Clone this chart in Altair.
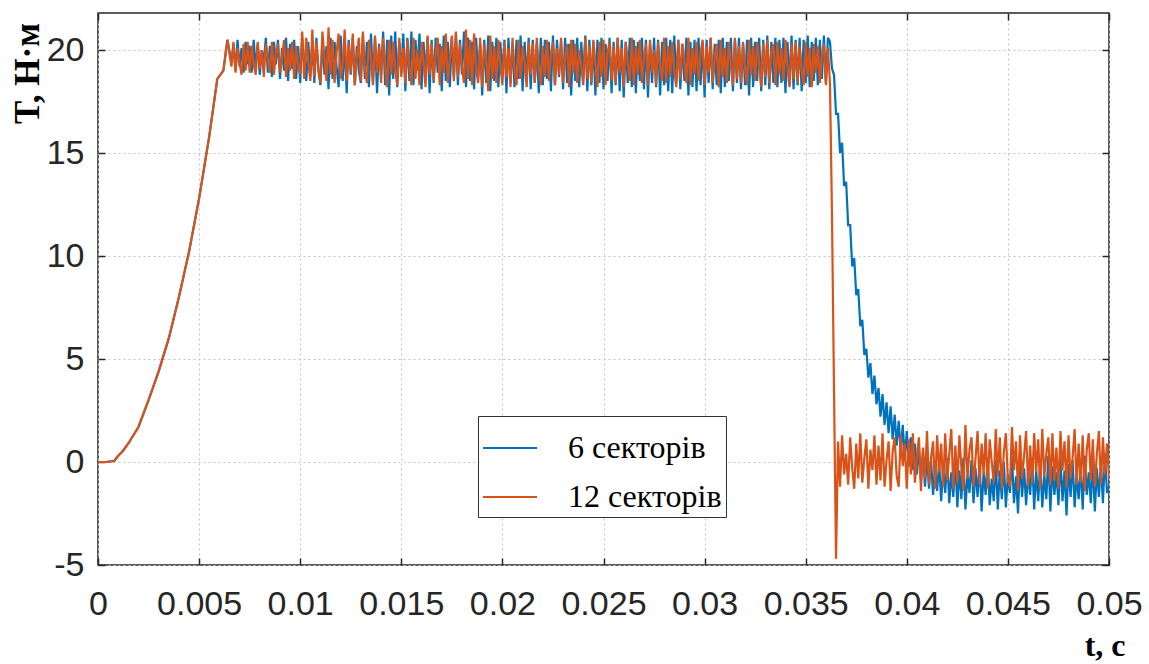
import altair as alt
import pandas as pd

SERIES = ["6 секторів", "12 секторів"]
COLORS = ["#0072BD", "#D95319"]

# smooth start-up (shared by both curves)
rise_t = [0, 0.0004, 0.0008, 0.001, 0.0012, 0.0015, 0.002, 0.0025, 0.003, 0.0035,
          0.004, 0.0045, 0.005, 0.0055, 0.0059, 0.0062, 0.0064]
rise_v = [0, 0, 0.05, 0.3, 0.5, 0.9, 1.7, 3.0, 4.4, 6.0,
          8.0, 10.2, 12.8, 15.8, 18.6, 19.0, 20.5]

# sampled torque after start-up, t = 0.0066 ... 0.05, step 0.0001 (10 samples per row)
t_start = 0.0066
t_step = 0.0001

blue_v = [
    19.4, 20.3, 19.0, 20.5, 19.2, 20.1, 18.9, 20.4, 19.3, 20.2,
    18.9, 20.5, 19.1, 20.3, 18.8, 20.0, 19.4, 20.6, 18.9, 20.2,
    18.7, 20.4, 19.3, 20.5, 18.6, 20.1, 19.0, 20.6, 18.5, 20.3,
    19.1, 20.5, 18.6, 20.2, 18.4, 20.6, 19.2, 18.5, 20.4, 18.7,
    20.3, 18.4, 20.6, 19.0, 18.3, 20.5, 18.8, 20.2, 18.1, 20.6,
    18.6, 20.4, 19.2, 18.2, 20.7, 18.5, 20.3, 17.9, 20.5, 18.8,
    20.6, 18.3, 20.2, 19.0, 18.4, 20.7, 18.6, 20.4, 18.2, 20.8,
    18.5, 20.6, 17.9, 20.3, 18.8, 20.9, 18.3, 20.5, 17.8, 20.7,
    18.6, 20.9, 18.2, 20.4, 18.9, 20.8, 18.0, 20.6, 18.5, 20.9,
    18.3, 20.5, 19.0, 20.8, 18.1, 20.4, 18.7, 20.6, 17.9, 20.5,
    18.4, 20.6, 18.9, 20.3, 18.0, 20.7, 18.5, 20.4, 18.2, 20.6,
    18.7, 20.8, 18.3, 20.5, 18.8, 20.9, 18.2, 20.6, 18.5, 20.4,
    18.1, 20.6, 18.6, 20.3, 17.8, 20.5, 18.4, 20.7, 18.0, 20.4,
    18.5, 20.6, 18.2, 20.4, 18.7, 20.5, 17.9, 20.6, 18.4, 20.3,
    18.2, 20.5, 18.6, 20.7, 18.0, 20.4, 18.5, 20.6, 18.1, 20.5,
    18.4, 20.3, 17.9, 20.6, 18.3, 20.5, 18.6, 20.4, 18.0, 20.7,
    18.3, 20.5, 18.7, 20.4, 18.1, 20.6, 18.4, 20.3, 17.8, 20.5,
    18.5, 20.6, 18.2, 20.4, 18.6, 20.7, 18.0, 20.5, 18.3, 20.4,
    17.8, 20.5, 18.4, 20.6, 18.1, 20.3, 18.5, 20.6, 17.9, 20.4,
    18.3, 20.6, 18.0, 20.5, 17.7, 20.4, 18.4, 20.6, 18.2, 20.5,
    17.9, 20.4, 18.5, 20.6, 18.1, 20.5, 17.7, 20.3, 18.4, 20.6,
    18.2, 20.5, 17.8, 20.4, 18.3, 20.6, 18.0, 20.5, 17.9, 20.7,
    18.4, 20.5, 18.1, 20.3, 18.5, 20.6, 17.8, 20.4, 18.2, 20.5,
    18.0, 20.6, 18.3, 20.4, 17.7, 20.5, 18.4, 20.6, 18.1, 20.3,
    18.3, 20.5, 17.9, 20.6, 18.2, 20.4, 18.5, 20.6, 18.0, 20.5,
    18.4, 20.6, 18.1, 20.3, 18.3, 20.5, 17.8, 20.6, 18.2, 20.4,
    18.5, 20.6, 18.0, 20.5, 18.3, 20.7, 18.1, 20.4, 18.4, 20.6,
    18.2, 20.5, 18.4, 20.6, 17.9, 20.4, 18.3, 20.7, 18.1, 20.5,
    18.3, 20.6, 18.0, 20.5, 18.4, 20.7, 18.2, 20.4, 18.5, 20.6,
    18.3, 20.5, 18.6, 20.7, 18.4, 20.6, 20.4, 19.1, 18.8, 16.9,
    16.9, 15.0, 15.5, 13.4, 13.6, 11.5, 11.5, 9.5, 9.9, 8.1,
    8.4, 6.6, 6.9, 5.2, 5.5, 4.1, 4.8, 3.3, 4.2, 2.8,
    3.6, 2.2, 3.3, 1.8, 2.9, 1.4, 2.7, 1.1, 2.3, 0.8,
    2.0, 0.5, 1.8, 0.2, 1.5, -0.2, 1.2, -0.4, 0.9, -0.6,
    0.7, -0.9, 0.5, -1.2, 0.3, -1.3, 0.1, -1.6, -0.2, -1.4,
    0.0, -1.9, -0.3, -1.5, 0.2, -2.0, -0.5, -1.7, 0.1, -2.2,
    -0.4, -1.8, 0.2, -2.3, -0.6, -1.5, 0.1, -2.0, -0.3, -1.7,
    0.0, -2.4, -0.5, -1.6, 0.2, -2.1, -0.8, -1.9, 0.1, -2.3,
    -0.4, -1.8, 0.0, -2.2, -0.6, -1.5, 0.3, -2.0, -0.7, -2.5,
    0.1, -1.7, -0.3, -2.1, -0.5, -1.6, 0.2, -2.3, -0.4, -1.9,
    0.0, -2.2, -0.6, -1.8, 0.3, -2.4, -0.2, -1.6, -0.5, -2.1,
    0.2, -1.9, -0.4, -2.6, -0.1, -1.7, 0.1, -2.2, -0.6, -1.8,
    -0.2, -2.3, 0.3, -1.6, -0.5, -2.0, 0.0, -2.4, -0.3, -1.7,
    -0.1, -2.0, 0.4, -1.5, -1.2,
]

orange_v = [
    19.2, 20.4, 18.9, 20.1, 19.4, 18.8, 20.3, 19.0, 20.4, 18.9,
    20.2, 19.3, 18.8, 20.4, 19.1, 20.0, 18.7, 20.3, 19.5, 18.9,
    20.4, 18.8, 19.9, 20.3, 18.9, 19.6, 20.5, 18.7, 20.1, 19.0,
    20.4, 18.6, 20.2, 19.2, 18.8, 20.9, 18.6, 20.6, 19.4, 18.5,
    21.0, 18.7, 20.4, 19.1, 18.4, 20.9, 19.6, 18.5, 21.1, 18.8,
    20.5, 18.4, 19.9, 20.8, 18.6, 19.3, 21.0, 18.5, 20.3, 18.9,
    20.8, 18.3, 19.7, 20.6, 18.5, 20.9, 19.0, 18.4, 20.5, 19.6,
    18.3, 20.7, 18.9, 20.2, 18.4, 20.6, 19.3, 18.2, 20.5, 18.8,
    20.4, 19.0, 18.3, 20.6, 18.7, 20.1, 18.4, 20.5, 19.2, 18.3,
    20.6, 18.6, 20.0, 18.3, 20.4, 19.4, 18.2, 20.7, 18.8, 20.3,
    18.5, 19.8, 20.6, 18.3, 20.2, 18.9, 20.8, 18.4, 19.6, 20.7,
    18.5, 20.9, 18.7, 20.3, 19.2, 18.4, 21.0, 18.6, 20.5, 18.3,
    20.8, 19.1, 18.4, 20.6, 18.2, 20.3, 19.5, 18.0, 20.7, 18.6,
    20.2, 18.4, 20.5, 19.3, 18.3, 20.4, 18.7, 20.1, 18.2, 20.6,
    19.0, 18.3, 20.5, 18.6, 20.2, 19.4, 18.2, 20.4, 18.8, 20.3,
    18.4, 20.6, 19.1, 18.3, 20.2, 18.7, 20.5, 18.5, 19.8, 20.4,
    18.3, 20.1, 18.8, 20.6, 18.4, 19.6, 20.3, 18.2, 20.5, 18.9,
    20.3, 18.4, 20.0, 19.2, 18.3, 20.6, 18.6, 20.2, 18.4, 20.5,
    19.3, 18.2, 20.4, 18.7, 20.5, 18.3, 19.9, 20.4, 18.5, 20.2,
    18.4, 20.6, 18.9, 20.1, 18.2, 20.4, 19.4, 18.5, 20.6, 18.3,
    20.2, 18.8, 20.5, 18.4, 19.7, 20.3, 18.3, 20.5, 18.9, 20.0,
    18.3, 20.4, 19.2, 18.5, 20.6, 18.4, 20.2, 18.7, 20.4, 19.0,
    18.2, 20.5, 18.6, 20.3, 19.5, 18.4, 20.6, 18.3, 20.1, 18.8,
    20.4, 18.5, 19.8, 20.5, 18.3, 20.2, 18.9, 20.6, 18.4, 19.6,
    20.3, 18.2, 20.5, 18.7, 20.1, 18.4, 20.4, 19.3, 18.3, 20.6,
    18.6, 20.2, 18.4, 20.4, 19.1, 18.3, 20.5, 18.8, 20.2, 18.5,
    20.4, 19.4, 18.2, 20.3, 18.7, 20.5, 18.4, 19.9, 20.3, 18.3,
    20.4, 18.8, 20.1, 18.5, 20.5, 19.2, 18.2, 20.3, 18.6, 20.4,
    18.4, 20.2, 19.0, 18.3, 20.4, 18.7, 20.1, 18.2, 20.3, 18.9,
    20.2, 18.4, 19.8, 20.3, 18.3, 20.1, 18.4, 12.0, 3.5, -4.7,
    1.0, -1.2, 1.3, -0.6, 0.4, -1.1, 1.2, -0.3, -1.3, 0.9,
    -0.8, 1.4, -1.0, 0.2, 1.1, -1.3, 0.6, -0.4, 1.3, -1.1,
    0.8, -0.9, 1.4, -1.2, 0.1, 1.0, -1.4, 0.5, 1.2, -0.7,
    -1.2, 1.3, -0.2, 0.9, -1.3, 1.1, -0.6, 1.4, -1.0, 0.3,
    1.2, -1.4, 0.7, -0.8, 1.5, -1.1, 0.2, 1.0, -1.3, 1.3,
    -0.5, 0.9, -1.2, 1.4, -0.9, 0.4, 1.6, -1.3, 0.8, -1.0,
    1.3, -0.3, -1.4, 1.8, -0.8, 0.6, 1.2, -1.2, 0.2, 1.5,
    -1.1, 0.9, -0.6, 1.4, -1.3, 1.1, 0.0, -1.0, 1.6, -0.7,
    1.2, -1.3, 0.5, 1.4, -0.9, -1.2, 1.7, -0.4, 1.0, -1.4,
    1.3, -0.8, 0.3, 1.5, -1.2, 0.8, -1.0, 1.4, -0.5, 1.1,
    -1.3, 1.6, -0.7, 0.4, 1.2, -1.1, 1.4, -0.9, 0.7, -1.3,
    1.5, -0.4, 1.0, -1.2, 1.3, -0.8, 0.2, 1.6, -1.1, 0.9,
    -1.0, 1.3, -1.4, 0.6, 1.4, -0.9, 1.1, -1.2, 0.4, 1.5,
    -1.1, 1.2, -0.6, 0.9, -0.8,
]

x_ticks = [0, 0.005, 0.01, 0.015, 0.02, 0.025, 0.03, 0.035, 0.04, 0.045, 0.05]
y_ticks = [-5, 0, 5, 10, 15, 20]


def series_frame(values, name):
    ts = rise_t + [round(t_start + t_step * i, 6) for i in range(len(values))]
    return pd.DataFrame({"t": ts, "T": rise_v + values, "s": name})


df_blue = series_frame(blue_v, SERIES[0])
df_orange = series_frame(orange_v, SERIES[1])

TICK_FONT = "Liberation Sans, Arial, Helvetica"
TITLE_FONT = "Liberation Serif, Times New Roman, serif"
DARK = "#262626"
MINUS_FIX = "replace(datum.label, '\u2212', '-')"

x_scale = alt.Scale(domain=[0, 0.05], nice=False, zero=False)
y_scale = alt.Scale(domain=[-5, 21.8], nice=False, zero=False)

color = alt.Color(
    "s:N",
    scale=alt.Scale(domain=SERIES, range=COLORS),
    legend=alt.Legend(
        orient="none", legendX=380, legendY=403, title=None,
        symbolType="stroke", symbolSize=2916, symbolStrokeWidth=2,
        labelFont=TITLE_FONT, labelFontSize=32, labelColor="black",
        labelOffset=30, strokeColor="#333333", fillColor="white",
        padding=4, rowPadding=5,
    ),
)

x_main = alt.Axis(
    values=x_ticks, format="~g", grid=True, gridColor="#c4c4c4", gridDash=[2, 3],
    domain=False, ticks=True, tickSize=7, tickColor=DARK, tickWidth=1.5, offset=-7,
    labelFont=TICK_FONT, labelFontSize=34, labelColor=DARK, labelPadding=22,
    labelFlush=False, labelOverlap=False,
    title="t, с", titleFont=TITLE_FONT, titleFontWeight="bold", titleFontSize=32,
    titleColor="black", titleAlign="right", titleBaseline="alphabetic",
    titleX=1027, titleY=97, titleAngle=0,
)
y_main = alt.Axis(
    values=y_ticks, grid=True, gridColor="#c4c4c4", gridDash=[2, 3],
    domain=False, ticks=True, tickSize=7, tickColor=DARK, tickWidth=1.5, offset=-7,
    labelFont=TICK_FONT, labelFontSize=34, labelColor=DARK, labelPadding=14,
    labelFlush=False, labelOverlap=False, labelExpr=MINUS_FIX,
    title="T, Н·м", titleFont=TITLE_FONT, titleFontWeight="bold", titleFontSize=35,
    titleColor="black", titleAngle=270, titleAlign="center", titleBaseline="middle",
    titleX=-78, titleY=60,
)
x_top = alt.Axis(values=x_ticks, orient="top", grid=False, domain=False, labels=False,
                 ticks=True, tickSize=7, tickColor=DARK, tickWidth=1.5, offset=-7, title=None)
y_right = alt.Axis(values=y_ticks, orient="right", grid=False, domain=False, labels=False,
                   ticks=True, tickSize=7, tickColor=DARK, tickWidth=1.5, offset=-7, title=None)

blue = alt.Chart(df_blue).mark_line(strokeWidth=2.2, clip=True).encode(
    x=alt.X("t:Q", scale=x_scale, axis=x_top),
    y=alt.Y("T:Q", scale=y_scale, axis=y_right),
    color=color,
    order="t:Q",
)
orange = alt.Chart(df_orange).mark_line(strokeWidth=2.2, clip=True).encode(
    x=alt.X("t:Q", scale=x_scale, axis=x_main),
    y=alt.Y("T:Q", scale=y_scale, axis=y_main),
    color=color,
    order="t:Q",
)

chart = (
    alt.layer(blue, orange)
    .resolve_axis(x="independent", y="independent")
    .properties(
        width=1011, height=552,
        autosize=alt.AutoSizeParams(type="none"),
        padding={"left": 98, "top": 13, "right": 40, "bottom": 99},
        background="white",
    )
    .configure_view(stroke=DARK, strokeWidth=1.5)
)

chart.save("out.html", embed_options={"renderer": "svg", "actions": False})
